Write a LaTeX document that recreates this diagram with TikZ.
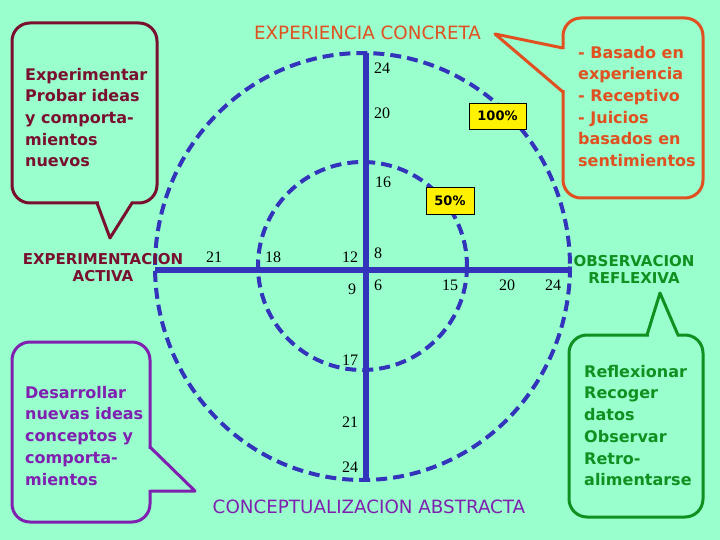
\documentclass[tikz,border=0pt]{standalone}
\usepackage{fontspec}
\setmainfont{DejaVu Sans}
\newfontfamily\numfont{Liberation Serif}
\definecolor{bgc}{HTML}{99FFCC}
\definecolor{axisblue}{HTML}{3333BB}
\definecolor{corange}{HTML}{E05020}
\definecolor{cdarkred}{HTML}{7A1030}
\definecolor{cpurple}{HTML}{8020B0}
\definecolor{cgreen}{HTML}{109020}
\newcommand\topstrut{\rule{0pt}{14pt}}
\begin{document}
\begin{tikzpicture}[x=1pt,y=-1pt,
  ring/.style={axisblue, line width=4pt, dash pattern=on 11pt off 6pt},
  axisline/.style={axisblue, line width=6.5pt},
  bubble/.style={line width=3pt, rounded corners=18pt},
  ptr/.style={line width=3pt, line cap=round, line join=round},
  btext/.style={inner sep=0pt, anchor=north west, align=left,
    font=\fontsize{16}{21.7}\selectfont\bfseries},
  num/.style={inner sep=0pt, font=\numfont\fontsize{16}{18}\selectfont},
  pct/.style={draw=black, line width=0.8pt, fill=yellow, inner sep=0pt,
    font=\fontsize{13}{15}\selectfont\bfseries},
  title/.style={inner sep=0pt, anchor=base, font=\fontsize{18.3}{22}\selectfont},
  pole/.style={inner sep=0pt, anchor=north, align=center,
    font=\fontsize{15}{17.5}\selectfont\bfseries}
]
\useasboundingbox (0,0) rectangle (720,540);
\fill[bgc] (0,0) rectangle (720,540);

% dashed rings
\draw[ring] (362.5,266.5) ellipse [x radius=207.5, y radius=213.5];
\draw[ring] (362.5,266) ellipse [x radius=104.5, y radius=104];

% axes
\coordinate (vt) at (366,53);
\coordinate (vb) at (366,480);
\coordinate (hl) at (155,270);
\coordinate (hr) at (570,270);
\draw[axisline] (vt) -- (vb);
\draw[axisline] (hl) -- (hr);

% scale numbers
\node[num] (a24) at (382,68) {24};
\node[num] (a20) at (382,113) {20};
\node[num] (a16) at (383,182) {16};
\node[num] (a8) at (378,253) {8};
\node[num] (a12) at (350,257) {12};
\node[num] (a9) at (352,289) {9};
\node[num] (a6) at (378,285) {6};
\node[num] (b15) at (450,285) {15};
\node[num] (b20) at (507,285) {20};
\node[num] (b24) at (553,285) {24};
\node[num] (c21) at (214,257) {21};
\node[num] (c18) at (273,257) {18};
\node[num] (d17) at (350,360) {17};
\node[num] (d21) at (350,422) {21};
\node[num] (d24) at (350,467) {24};

% percentage boxes
\node[pct, minimum width=57pt, minimum height=26pt] (p100) at (497.5,116) {100\%};
\node[pct, minimum width=48pt, minimum height=27pt] (p50) at (450,200.5) {50\%};

% titles
\node[title, text=corange] (ec) at (367.5,40) {EXPERIENCIA CONCRETA};
\node[title, text=cpurple] (ca) at (369,513) {CONCEPTUALIZACION ABSTRACTA};
\node[pole, text=cdarkred] (ea) at (103,253) {EXPERIMENTACION\\ACTIVA};
\node[pole, text=cgreen] (or) at (634,255) {OBSERVACION\\REFLEXIVA};

% top-left callout
\draw[bubble, cdarkred] (12,23) rectangle (157,203);
\fill[bgc] (98.5,200) rectangle (130.5,206);
\draw[ptr, cdarkred] (97,203) -- (110,238) -- (132,203);
\node[btext, text=cdarkred] (tl) at (25,66) {\topstrut Experimentar\\Probar ideas\\y comporta-\\mientos\\nuevos};

% top-right callout
\draw[bubble, corange] (563,18) rectangle (703,198);
\fill[bgc] (560,49.5) rectangle (566,90.5);
\draw[ptr, corange] (563,48) -- (495,34) -- (563,92);
\node[btext, text=corange] (tr) at (578,44) {\topstrut - Basado en\\experiencia\\- Receptivo\\- Juicios\\basados en\\sentimientos};

% bottom-left callout
\draw[bubble, cpurple] (12,342) rectangle (150,522);
\fill[bgc] (147,448.5) rectangle (153,489.5);
\draw[ptr, cpurple] (150,447) -- (195,491) -- (150,491);
\node[btext, text=cpurple] (bl) at (25,384) {\topstrut Desarrollar\\nuevas ideas\\conceptos y\\comporta-\\mientos};

% bottom-right callout
\draw[bubble, cgreen] (569,335) rectangle (703,517);
\fill[bgc] (648.5,332) rectangle (676.5,338);
\draw[ptr, cgreen] (647,335) -- (660,293) -- (678,335);
\node[btext, text=cgreen] (br) at (584,363) {\topstrut Reflexionar\\Recoger\\datos\\Observar\\Retro-\\alimentarse};
\end{tikzpicture}
\end{document}
